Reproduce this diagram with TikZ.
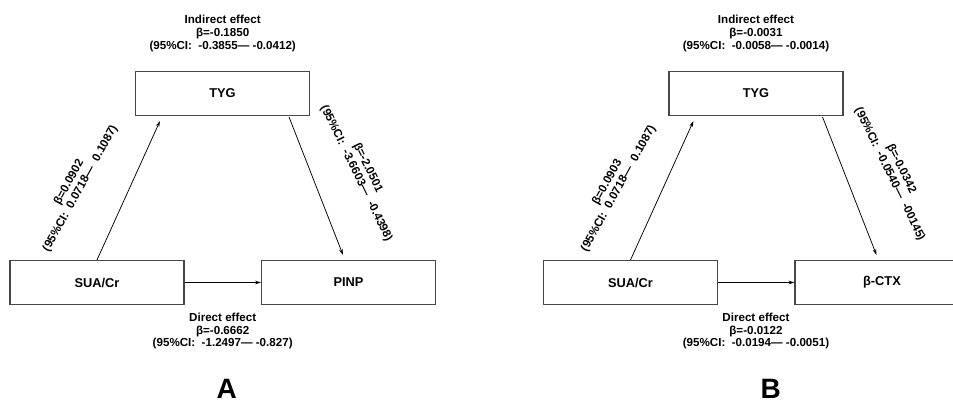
\documentclass[tikz,border=0pt]{standalone}
\usepackage{fontspec}
\setmainfont{Liberation Sans}
\usetikzlibrary{arrows.meta,calc}
\definecolor{boxgray}{RGB}{70,70,70}
\begin{document}
\begin{tikzpicture}[x=1pt,y=-1pt,
  box/.style={draw=boxgray,line width=1.1pt,minimum width=174pt,minimum height=44pt,inner sep=0pt,font=\fontsize{12.8}{14}\selectfont\bfseries},
  arr/.style={draw=black,line width=0.75pt,-{Stealth[length=6pt,width=3.6pt]}},
  eff/.style={align=center,inner sep=0pt,font=\fontsize{11.6}{12.9}\selectfont\bfseries},
  panel/.style={inner sep=0pt,font=\fontsize{28}{30}\selectfont\bfseries}]
\useasboundingbox (0,0) rectangle (953,402);
\fill[white] (0,0) rectangle (953,402);
\clip (0,0) rectangle (953,402);

% ---------- Panel A ----------
\node[box] (tygA) at (222.5,93.5) {TYG};
\node[box] (suaA) at (97,282.5) {SUA/Cr};
\node[box] (pinpA) at (348.5,282.5) {PINP};
\draw[arr] (suaA.north) -- ($(tygA.south west)+(25,5)$);
\draw[arr] ($(tygA.south east)+(-21,1)$) -- ($(pinpA.north)+(-5.5,-5)$);
\draw[arr] (suaA.east) -- (pinpA.west);
\node[eff] (indA) at (222.7,33.5) {Indirect effect\\β=-0.1850\\(95\%CI:\ \ -0.3855— -0.0412)};
\node[eff] (dirA) at (222.7,331) {Direct effect\\β=-0.6662\\(95\%CI:\ \ -1.2497— -0.827)};
\node[eff,rotate=61] (labA1) at (74.8,185.4) {β=0.0902\\(95\%CI:\ \ 0.0718—\ \ 0.1087)};
\node[eff,rotate=-64] (labA2) at (362,170.7) {β=-2.0501\\(95\%CI:\ \ -3.6603—\ \ -0.4398)};
\node[panel] (pA) at (226.7,389.3) {A};

% ---------- Panel B ----------
\node[box] (tygB) at (756,93.5) {TYG};
\node[box] (suaB) at (630.5,282.5) {SUA/Cr};
\node[box] (ctxB) at (882,282.5) {β-CTX};
\draw[arr] (suaB.north) -- ($(tygB.south west)+(25,5)$);
\draw[arr] ($(tygB.south east)+(-21,1)$) -- ($(ctxB.north)+(-5.5,-5)$);
\draw[arr] (suaB.east) -- (ctxB.west);
\node[eff] (indB) at (756,33.5) {Indirect effect\\β=-0.0031\\(95\%CI:\ \ -0.0058— -0.0014)};
\node[eff] (dirB) at (756,331) {Direct effect\\β=-0.0122\\(95\%CI:\ \ -0.0194— -0.0051)};
\node[eff,rotate=61] (labB1) at (613,185.4) {β=0.0903\\(95\%CI:\ \ 0.0718—\ \ 0.1087)};
\node[eff,rotate=-64] (labB2) at (895.5,171.5) {β=-0.0342\\(95\%CI:\ \ -0.0540—\ \ -00145)};
\node[panel] (pB) at (770.8,389.3) {B};
\end{tikzpicture}
\end{document}
